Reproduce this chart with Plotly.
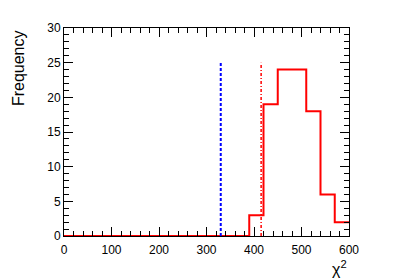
import plotly.graph_objects as go

# histogram of chi2 values, 30-wide bins from 0 to 600
bin_edges = list(range(0, 601, 30))
counts = [0, 0, 0, 0, 0, 0, 0, 0, 0, 0, 0, 0, 0, 3, 19, 24, 24, 18, 6, 2]

# reference lines
blue_x = [330, 330]
blue_y = [0, 25]
red_x = [415, 415]
red_y = [0, 25]

x_ticks = [0, 100, 200, 300, 400, 500, 600]
y_ticks = [0, 5, 10, 15, 20, 25, 30]

fig = go.Figure()

fig.add_trace(go.Scatter(
    x=bin_edges,
    y=counts + [counts[-1]],
    mode="lines",
    line=dict(color="#ff0000", width=2, shape="hv"),
    showlegend=False,
))

fig.add_trace(go.Scatter(
    x=blue_x, y=blue_y, mode="lines",
    line=dict(color="#0000ff", width=2, dash="3px,2px"),
    showlegend=False,
))

fig.add_trace(go.Scatter(
    x=red_x, y=red_y, mode="lines",
    line=dict(color="#ff0000", width=1.5, dash="3px,2px,1px,2px"),
    showlegend=False,
))

axis_style = dict(
    showline=True, linecolor="black", linewidth=1, mirror="allticks",
    ticks="inside", ticklen=9, tickcolor="black", tickwidth=1,
    showgrid=False, zeroline=False,
    tickfont=dict(family="Liberation Sans, Arial", size=12, color="black"),
)

fig.update_xaxes(range=[0, 600], tickvals=x_ticks, ticklabelstandoff=3,
                 minor=dict(ticks="inside", dtick=20, ticklen=5, tickcolor="black"),
                 **axis_style)
fig.update_yaxes(range=[0, 30], tickvals=y_ticks,
                 minor=dict(ticks="inside", dtick=1, ticklen=5, tickcolor="black"),
                 **axis_style)

fig.add_annotation(
    text="Frequency", textangle=-90, showarrow=False,
    xref="paper", yref="paper", x=-0.161, y=1.0,
    xanchor="center", yanchor="top",
    font=dict(family="Liberation Sans, Arial", size=16, color="black"),
)
fig.add_annotation(
    text="χ<sup>2</sup>", showarrow=False,
    xref="paper", yref="paper", x=1.0, y=0,
    xanchor="right", yanchor="middle", yshift=-32,
    font=dict(family="Liberation Sans, Arial", size=16, color="black"),
)

# page body has an 8px margin, so the figure is shrunk to fit the window
fig.update_layout(
    width=399, height=270,
    margin=dict(l=56, r=58, t=20, b=42),
    paper_bgcolor="white", plot_bgcolor="white",
)

fig.write_html("out.html")
